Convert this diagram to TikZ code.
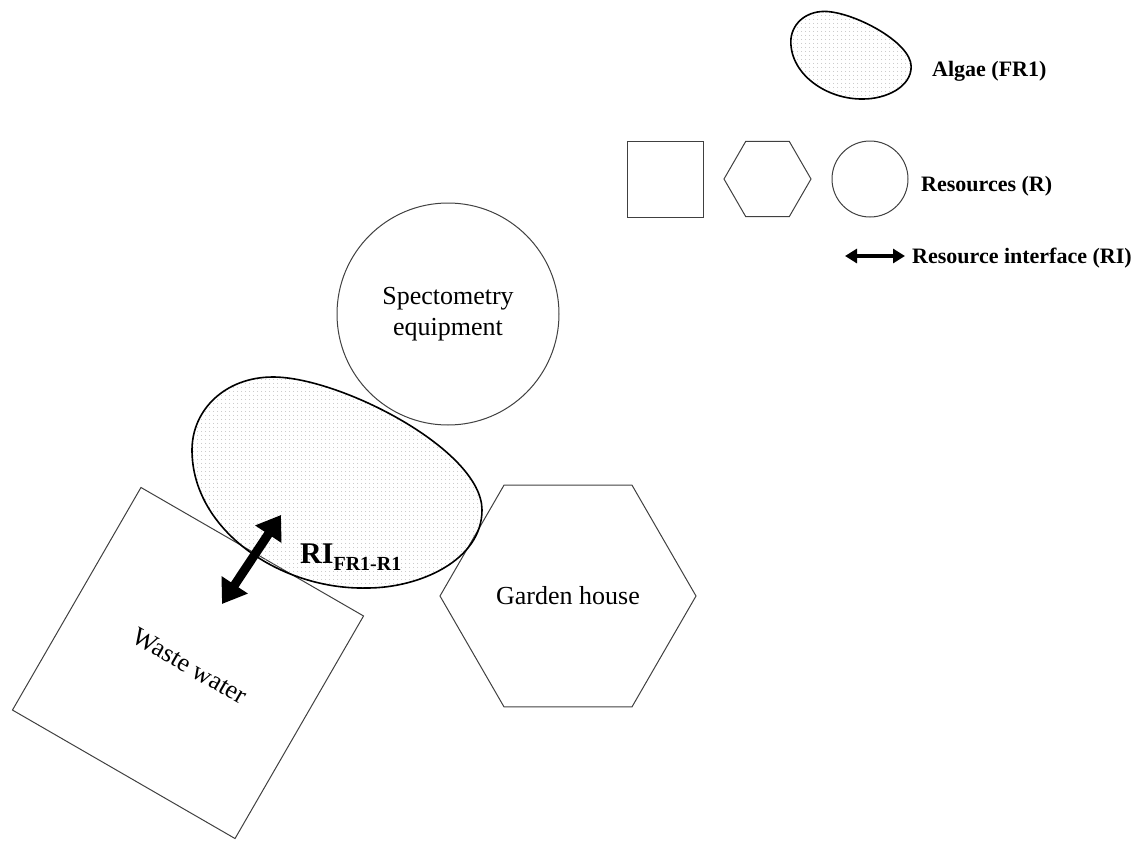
\documentclass[tikz,border=0pt]{standalone}
\usepackage{fontspec}
\setmainfont{Liberation Serif}
\usetikzlibrary{shapes.geometric,arrows.meta,patterns}

% fine dot stipple for the algae blobs
\pgfdeclarepatternformonly{algaedots}{\pgfqpoint{0pt}{0pt}}{\pgfqpoint{4pt}{4pt}}{\pgfqpoint{4pt}{4pt}}{%
  \pgfpathcircle{\pgfqpoint{2pt}{2pt}}{0.55pt}\pgfusepath{fill}}

% egg-shaped outline of an algae blob, around its own centre
\newcommand{\algaeblob}{%
  (-64,-105) .. controls (3,-105) and (145,-32) .. (145,28)
  .. controls (145,78) and (83,106) .. (30,106)
  .. controls (-57,108) and (-145,48) .. (-145,-32)
  .. controls (-145,-72) and (-112,-105) .. (-64,-105) -- cycle}

\begin{document}
\begin{tikzpicture}[x=1pt,y=-1pt,
  resource/.style={draw=black!75, line width=1pt, inner sep=0pt, outer sep=0pt},
  algae/.style={draw=black, line width=1.6pt, pattern=algaedots, pattern color=black!35},
  label/.style={font=\fontsize{26}{31}\selectfont, align=center, inner sep=0pt},
  legendtext/.style={font=\fontsize{22}{26}\selectfont\bfseries, anchor=base west, inner sep=0pt},
  riarrow/.style={{Triangle[length=23pt,width=30pt]}-{Triangle[length=23pt,width=30pt]},
    line width=9pt, black},
  keyarrow/.style={{Triangle[length=12pt,width=14pt]}-{Triangle[length=12pt,width=14pt]},
    line width=3.5pt, black}
]
\useasboundingbox (0,0) rectangle (1136,841);

% resources
\node[resource, circle, minimum size=222pt] (spectro) at (448,314) {};
\node[label] (spectro-text) at (448,314) {Spectometry\\equipment};

\node[resource, regular polygon, regular polygon sides=6, minimum size=256pt] (garden) at (568,596) {};
\node[label] (garden-text) at (568,596) {Garden house};

\node[resource, rectangle, minimum size=257pt, rotate=-30] (waste) at (188,663) {};
\node[label, rotate=-30] (waste-text) at (190,666) {Waste water};

% focal resource
\coordinate (algae) at (337,482);
\begin{scope}[shift={(algae)}]
  \draw[algae] \algaeblob;
\end{scope}

% resource interface between algae and waste water
\coordinate (ri-a) at (281,515);
\coordinate (ri-b) at (222,604);
\draw[riarrow] (ri-a) -- (ri-b);
\node[anchor=base west, inner sep=0pt, font=\fontsize{30}{30}\selectfont\bfseries] (ri-label)
  at (300,563) {RI\raisebox{-7pt}{\fontsize{20}{20}\selectfont FR1-R1}};

% key
\coordinate (key-algae) at (851,55);
\begin{scope}[shift={(key-algae)}, scale=0.415]
  \draw[algae] \algaeblob;
\end{scope}
\node[legendtext] (key-algae-text) at (932,76) {Algae (FR1)};

\node[resource, rectangle, minimum size=76pt] (key-square) at (665,179) {};
\node[resource, regular polygon, regular polygon sides=6, minimum size=87pt] (key-hex) at (767.5,179) {};
\node[resource, circle, minimum size=76pt] (key-circle) at (870,179) {};
\node[legendtext] (key-res-text) at (921,191) {Resources (R)};

\coordinate (key-ri-a) at (845,256);
\coordinate (key-ri-b) at (905,256);
\draw[keyarrow] (key-ri-a) -- (key-ri-b);
\node[legendtext] (key-ri-text) at (912,263) {Resource interface (RI)};
\end{tikzpicture}
\end{document}
